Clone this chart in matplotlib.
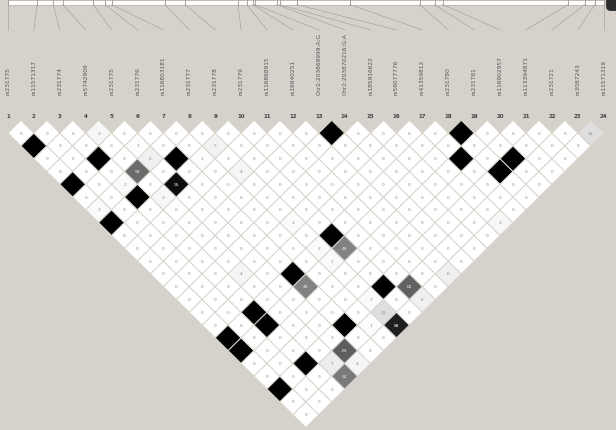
import matplotlib
matplotlib.use('Agg')
import matplotlib.pyplot as plt
import numpy as np
from matplotlib.collections import PolyCollection
from matplotlib.patches import FancyBboxPatch

# SNP names (numbered 1..24 left to right)
snp_names = ['rs231775', 'rs11571317', 'rs231774', 'rs5742909', 'rs231775',
             'rs231776', 'rs116803181', 'rs231777', 'rs231778', 'rs231779',
             'rs116868915', 'rs16840251', 'Chr2:203869999:A:G', 'Chr2:203870216:G:A',
             'rs185916622', 'rs56077776', 'rs41359812', 'rs231780', 'rs231781',
             'rs116902957', 'rs113394871', 'rs231721', 'rs3087243', 'rs11571319']

# relative genomic position of each SNP along the region (0..1)
snp_pos = [0.000, 0.049, 0.076, 0.092, 0.143, 0.163, 0.174, 0.263, 0.297, 0.386,
           0.401, 0.411, 0.414, 0.451, 0.456, 0.485, 0.574, 0.691, 0.716, 0.730,
           0.940, 0.968, 0.985, 1.000]

# r^2 x 100 for pairs (i, j); everything else is 0
r2_pairs = {
    (1, 3): 100, (3, 6): 100, (6, 9): 100, (4, 8): 58, (5, 10): 95, (1, 6): 100,
    (3, 9): 100, (1, 9): 100, (4, 5): 3, (5, 7): 1, (5, 8): 6, (3, 8): 2,
    (4, 10): 3, (1, 8): 2, (7, 10): 1, (13, 14): 100, (8, 10): 5, (8, 12): 4,
    (8, 16): 2, (9, 18): 100, (9, 19): 49, (18, 19): 100, (17, 20): 100,
    (19, 22): 100, (18, 22): 100, (23, 24): 13, (16, 24): 3, (4, 16): 4,
    (6, 18): 100, (6, 19): 49, (3, 18): 100, (3, 19): 100, (1, 18): 100,
    (1, 19): 100, (3, 22): 100, (1, 22): 100, (8, 18): 2, (8, 19): 2,
    (9, 22): 100, (10, 23): 62, (10, 24): 6, (12, 24): 6, (8, 22): 2,
    (8, 23): 13, (8, 24): 88, (7, 23): 1, (6, 22): 100, (5, 23): 63,
    (4, 23): 7, (5, 24): 4, (4, 24): 52,
}

BG = '#d6d2cb'
n = len(snp_names)

fig = plt.figure(figsize=(6.16, 4.30), dpi=100)
fig.patch.set_facecolor(BG)
ax = fig.add_axes([0, 0, 1, 1])
ax.set_facecolor(BG)
ax.set_xlim(0.691, 24.475)
ax.set_ylim(12.1, -4.70)
ax.axis('off')

# LD triangle
polys = []
colors = []
for i in range(1, n + 1):
    for j in range(i + 1, n + 1):
        c = (i + j) / 2
        r = (j - i) / 2
        polys.append([(c - 0.5, r), (c, r - 0.5), (c + 0.5, r), (c, r + 0.5)])
        v = r2_pairs.get((i, j), 0)
        g = 1 - v / 100
        colors.append((g, g, g))
        if v < 100:
            tc = '#f0f0f0' if v > 40 else '#8a8a8a'
            ax.text(c, r + 0.02, str(v), fontsize=3.2, color=tc,
                    ha='center', va='center')
pc = PolyCollection(polys, facecolors=colors, edgecolors='#d9d5ce', linewidths=0.7)
ax.add_collection(pc)

# SNP numbers and names
for k in range(1, n + 1):
    ax.text(k, -0.13, str(k), fontsize=4, color='#444444', ha='center', va='center',
            fontweight='bold')
    ax.text(k, -0.98, snp_names[k - 1], fontsize=4.2, color='#555555', rotation=90,
            ha='center', va='bottom')

# top position bar with ticks and connecting lines
ax.fill_between([1, n], -4.70, -4.52, color='white', edgecolor='#b8b4ac', lw=0.6)
for k in range(1, n + 1):
    tx = 1 + snp_pos[k - 1] * (n - 1)
    ax.plot([tx, tx], [-4.70, -4.52], color='#9a9690', lw=0.6)
    ax.plot([tx, k], [-4.52, -3.53], color='#a8a49e', lw=0.5)

# small dark corner element
ax.add_patch(FancyBboxPatch((24.12, -4.9), 0.6, 0.6, boxstyle='round,pad=0,rounding_size=0.15',
                            color='#2e2e2e', clip_on=False))

fig.savefig('out.png', dpi=100, facecolor=BG)
